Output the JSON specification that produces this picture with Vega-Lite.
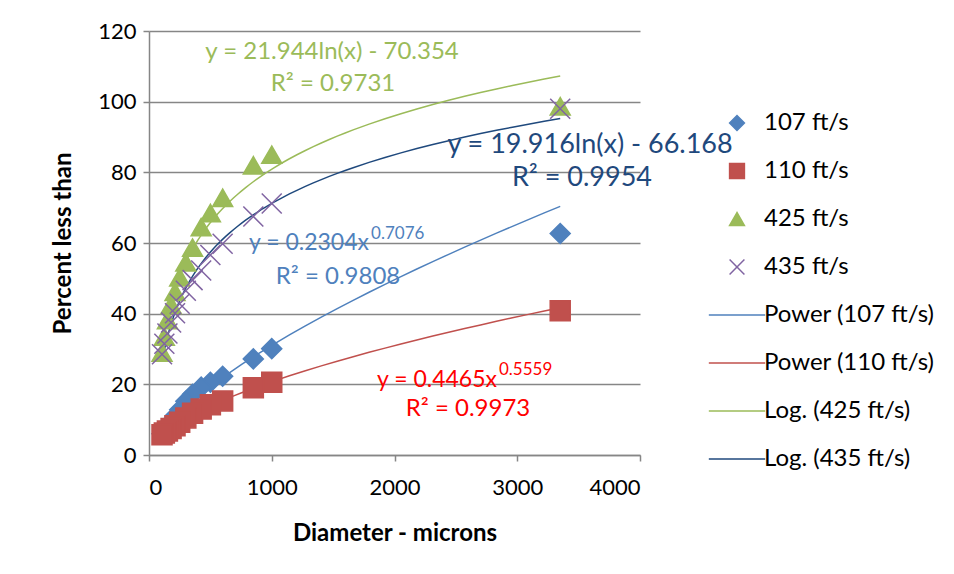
{
  "$schema": "https://vega.github.io/schema/vega-lite/v6.json",
  "width": 491,
  "height": 424,
  "autosize": "none",
  "padding": {"left": 149, "top": 31, "right": 314, "bottom": 119},
  "background": "white",
  "config": {
    "font": "Lato",
    "view": {"stroke": null},
    "axis": {
      "domainColor": "#868686", "domainWidth": 1.5,
      "tickColor": "#868686", "tickWidth": 1.5, "tickSize": 6,
      "gridColor": "#868686", "gridWidth": 1.5,
      "labelFont": "Lato", "labelFontSize": 22, "labelColor": "#000000",
      "titleFont": "Lato", "titleFontSize": 24, "titleFontWeight": "bold", "titleColor": "#000000"
    },
    "legend": {"labelFont": "Lato", "labelFontSize": 24, "labelColor": "#000000"}
  },
  "datasets": {
    "pts": [
      {"series": "107 ft/s", "diameter": 3350, "pct": 62.7},
      {"series": "107 ft/s", "diameter": 1000, "pct": 30.1},
      {"series": "107 ft/s", "diameter": 850, "pct": 27.2},
      {"series": "107 ft/s", "diameter": 600, "pct": 22.3},
      {"series": "107 ft/s", "diameter": 500, "pct": 20.6},
      {"series": "107 ft/s", "diameter": 425, "pct": 19.2},
      {"series": "107 ft/s", "diameter": 355, "pct": 17.2},
      {"series": "107 ft/s", "diameter": 300, "pct": 15.2},
      {"series": "107 ft/s", "diameter": 250, "pct": 12.8},
      {"series": "107 ft/s", "diameter": 212, "pct": 11.0},
      {"series": "107 ft/s", "diameter": 180, "pct": 9.5},
      {"series": "107 ft/s", "diameter": 150, "pct": 8.0},
      {"series": "107 ft/s", "diameter": 125, "pct": 7.0},
      {"series": "107 ft/s", "diameter": 106, "pct": 6.0},
      {"series": "110 ft/s", "diameter": 3350, "pct": 40.8},
      {"series": "110 ft/s", "diameter": 1000, "pct": 20.6},
      {"series": "110 ft/s", "diameter": 850, "pct": 19.0},
      {"series": "110 ft/s", "diameter": 600, "pct": 15.3},
      {"series": "110 ft/s", "diameter": 500, "pct": 14.2},
      {"series": "110 ft/s", "diameter": 425, "pct": 13.0},
      {"series": "110 ft/s", "diameter": 355, "pct": 11.8},
      {"series": "110 ft/s", "diameter": 300, "pct": 10.5},
      {"series": "110 ft/s", "diameter": 250, "pct": 9.3},
      {"series": "110 ft/s", "diameter": 212, "pct": 8.3},
      {"series": "110 ft/s", "diameter": 180, "pct": 7.5},
      {"series": "110 ft/s", "diameter": 150, "pct": 6.8},
      {"series": "110 ft/s", "diameter": 125, "pct": 6.2},
      {"series": "110 ft/s", "diameter": 106, "pct": 5.7},
      {"series": "425 ft/s", "diameter": 3350, "pct": 98.7},
      {"series": "425 ft/s", "diameter": 1000, "pct": 85.0},
      {"series": "425 ft/s", "diameter": 850, "pct": 82.0},
      {"series": "425 ft/s", "diameter": 600, "pct": 72.8},
      {"series": "425 ft/s", "diameter": 500, "pct": 68.5},
      {"series": "425 ft/s", "diameter": 425, "pct": 64.5},
      {"series": "425 ft/s", "diameter": 355, "pct": 58.7},
      {"series": "425 ft/s", "diameter": 300, "pct": 54.5},
      {"series": "425 ft/s", "diameter": 250, "pct": 50.3},
      {"series": "425 ft/s", "diameter": 212, "pct": 46.2},
      {"series": "425 ft/s", "diameter": 180, "pct": 42.5},
      {"series": "425 ft/s", "diameter": 150, "pct": 38.2},
      {"series": "425 ft/s", "diameter": 125, "pct": 33.5},
      {"series": "425 ft/s", "diameter": 106, "pct": 29.0},
      {"series": "435 ft/s", "diameter": 3350, "pct": 98.0},
      {"series": "435 ft/s", "diameter": 1000, "pct": 71.2},
      {"series": "435 ft/s", "diameter": 850, "pct": 67.5},
      {"series": "435 ft/s", "diameter": 600, "pct": 59.8},
      {"series": "435 ft/s", "diameter": 500, "pct": 56.6},
      {"series": "435 ft/s", "diameter": 425, "pct": 52.2},
      {"series": "435 ft/s", "diameter": 355, "pct": 49.5},
      {"series": "435 ft/s", "diameter": 300, "pct": 46.5},
      {"series": "435 ft/s", "diameter": 250, "pct": 42.8},
      {"series": "435 ft/s", "diameter": 212, "pct": 40.1},
      {"series": "435 ft/s", "diameter": 180, "pct": 37.5},
      {"series": "435 ft/s", "diameter": 150, "pct": 34.4},
      {"series": "435 ft/s", "diameter": 125, "pct": 31.5},
      {"series": "435 ft/s", "diameter": 106, "pct": 28.5}
    ]
  },
  "layer": [
    {
      "data": {"name": "pts"},
      "transform": [{"filter": {"field": "series", "equal": "107 ft/s"}}, {"regression": "pct", "on": "diameter", "method": "pow"}],
      "mark": {"type": "line", "color": "#4F81BD", "strokeWidth": 1.5},
      "encoding": {
        "x": {"field": "diameter", "type": "quantitative", "scale": {"domain": [0, 4000], "nice": false}, "axis": {"values": [0, 1000, 2000, 3000, 4000], "format": "d", "grid": false, "labelPadding": 16, "titlePadding": 23, "title": "Diameter - microns"}},
        "y": {"field": "pct", "type": "quantitative", "scale": {"domain": [0, 120], "nice": false}, "axis": {"values": [0, 20, 40, 60, 80, 100, 120], "format": "d", "grid": true, "labelPadding": 7, "titlePadding": 22, "title": "Percent less than"}}
      }
    },
    {
      "data": {"name": "pts"},
      "transform": [{"filter": {"field": "series", "equal": "110 ft/s"}}, {"regression": "pct", "on": "diameter", "method": "pow"}],
      "mark": {"type": "line", "color": "#C0504D", "strokeWidth": 1.5},
      "encoding": {"x": {"field": "diameter", "type": "quantitative"}, "y": {"field": "pct", "type": "quantitative"}}
    },
    {
      "data": {"name": "pts"},
      "transform": [{"filter": {"field": "series", "equal": "425 ft/s"}}, {"regression": "pct", "on": "diameter", "method": "log"}],
      "mark": {"type": "line", "color": "#9BBB59", "strokeWidth": 1.5},
      "encoding": {"x": {"field": "diameter", "type": "quantitative"}, "y": {"field": "pct", "type": "quantitative"}}
    },
    {
      "data": {"name": "pts"},
      "transform": [{"filter": {"field": "series", "equal": "435 ft/s"}}, {"regression": "pct", "on": "diameter", "method": "log"}],
      "mark": {"type": "line", "color": "#1F497D", "strokeWidth": 1.5},
      "encoding": {"x": {"field": "diameter", "type": "quantitative"}, "y": {"field": "pct", "type": "quantitative"}}
    },
    {
      "data": {"name": "pts"},
      "mark": {"type": "point", "filled": true, "opacity": 1, "size": 400, "strokeWidth": 1.5},
      "encoding": {
        "x": {"field": "diameter", "type": "quantitative"},
        "y": {"field": "pct", "type": "quantitative"},
        "color": {
          "field": "series", "type": "nominal",
          "scale": {
            "domain": ["107 ft/s", "110 ft/s", "425 ft/s", "435 ft/s", "Power (107 ft/s)", "Power (110 ft/s)", "Log. (425 ft/s)", "Log. (435 ft/s)"],
            "range": ["#4F81BD", "#C0504D", "#9BBB59", "#8064A2", "#4F81BD", "#C0504D", "#9BBB59", "#1F497D"]
          },
          "legend": {
            "title": null, "orient": "none", "legendX": 576, "legendY": 80, "padding": 0,
            "symbolSize": 220, "rowPadding": 24, "labelOffset": 15, "labelFontSize": 24, "labelLimit": 400,
            "encode": {"symbols": {"update": {"stroke": {"scale": "color", "field": "value"}, "strokeWidth": {"value": 1.5}}}}
          }
        },
        "stroke": {
          "field": "series", "type": "nominal",
          "scale": {
            "domain": ["107 ft/s", "110 ft/s", "425 ft/s", "435 ft/s", "Power (107 ft/s)", "Power (110 ft/s)", "Log. (425 ft/s)", "Log. (435 ft/s)"],
            "range": ["#4F81BD", "#C0504D", "#9BBB59", "#8064A2", "#4F81BD", "#C0504D", "#9BBB59", "#1F497D"]
          }
        },
        "shape": {
          "field": "series", "type": "nominal",
          "scale": {
            "domain": ["107 ft/s", "110 ft/s", "425 ft/s", "435 ft/s", "Power (107 ft/s)", "Power (110 ft/s)", "Log. (425 ft/s)", "Log. (435 ft/s)"],
            "range": ["diamond", "square", "triangle-up", "M-1,-1L1,1M1,-1L-1,1", "M-3.8,0L3.8,0", "M-3.8,0L3.8,0", "M-3.8,0L3.8,0", "M-3.8,0L3.8,0"]
          }
        }
      }
    },
    {"data": {"values": [{}]}, "mark": {"type": "text", "fontSize": 24, "color": "#9BBB59", "align": "center", "baseline": "middle", "text": "y = 21.944ln(x) - 70.354"}, "encoding": {"x": {"datum": 1491}, "y": {"datum": 114.1}}},
    {"data": {"values": [{}]}, "mark": {"type": "text", "fontSize": 24, "color": "#9BBB59", "align": "center", "baseline": "middle", "text": "R² = 0.9731"}, "encoding": {"x": {"datum": 1499}, "y": {"datum": 105.0}}},
    {"data": {"values": [{}]}, "mark": {"type": "text", "fontSize": 27, "color": "#1F497D", "align": "center", "baseline": "middle", "text": "y = 19.916ln(x) - 66.168"}, "encoding": {"x": {"datum": 3593}, "y": {"datum": 87.7}}},
    {"data": {"values": [{}]}, "mark": {"type": "text", "fontSize": 27, "color": "#1F497D", "align": "center", "baseline": "middle", "text": "R² = 0.9954"}, "encoding": {"x": {"datum": 3527}, "y": {"datum": 78.4}}},
    {"data": {"values": [{}]}, "mark": {"type": "text", "fontSize": 23, "color": "#4F81BD", "align": "right", "baseline": "middle", "text": "y = 0.2304x"}, "encoding": {"x": {"datum": 1792}, "y": {"datum": 60.0}}},
    {"data": {"values": [{}]}, "mark": {"type": "text", "fontSize": 17, "color": "#4F81BD", "align": "left", "baseline": "middle", "text": "0.7076"}, "encoding": {"x": {"datum": 1809}, "y": {"datum": 62.6}}},
    {"data": {"values": [{}]}, "mark": {"type": "text", "fontSize": 24, "color": "#4F81BD", "align": "center", "baseline": "middle", "text": "R² = 0.9808"}, "encoding": {"x": {"datum": 1540}, "y": {"datum": 50.4}}},
    {"data": {"values": [{}]}, "mark": {"type": "text", "fontSize": 23, "color": "#FF0000", "align": "right", "baseline": "middle", "text": "y = 0.4465x"}, "encoding": {"x": {"datum": 2835}, "y": {"datum": 21.2}}},
    {"data": {"values": [{}]}, "mark": {"type": "text", "fontSize": 17, "color": "#FF0000", "align": "left", "baseline": "middle", "text": "0.5559"}, "encoding": {"x": {"datum": 2851}, "y": {"datum": 24.1}}},
    {"data": {"values": [{}]}, "mark": {"type": "text", "fontSize": 24, "color": "#FF0000", "align": "center", "baseline": "middle", "text": "R² = 0.9973"}, "encoding": {"x": {"datum": 2599}, "y": {"datum": 13.0}}}
  ]
}
